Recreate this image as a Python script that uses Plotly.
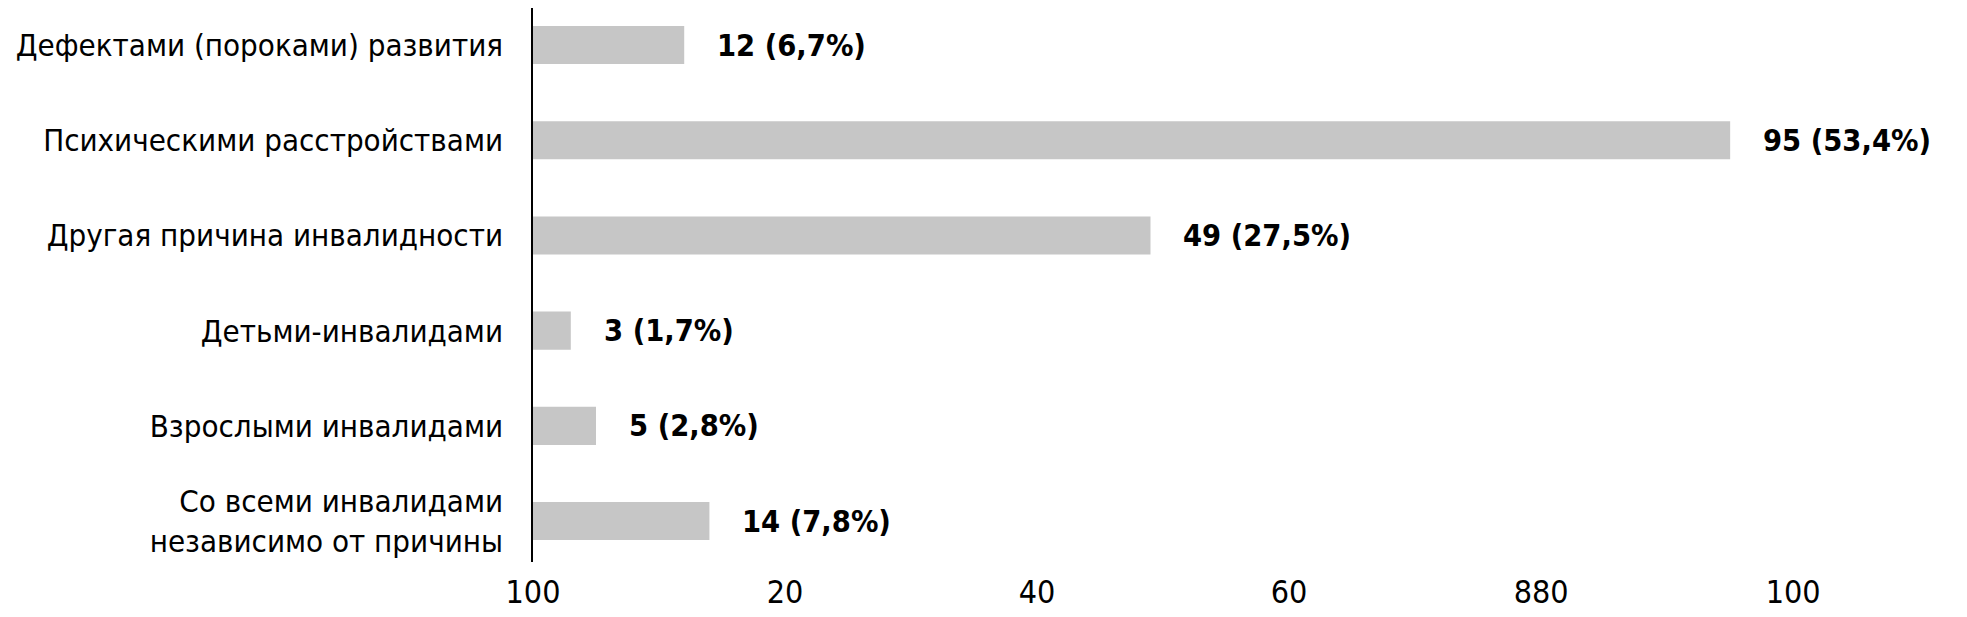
import plotly.graph_objects as go

categories = [
    "Дефектами (пороками) развития",
    "Психическими расстройствами",
    "Другая причина инвалидности",
    "Детьми-инвалидами",
    "Взрослыми инвалидами",
    "Со всеми инвалидами<br>независимо от причины",
]
values = [12, 95, 49, 3, 5, 14]
percents = ["6,7%", "53,4%", "27,5%", "1,7%", "2,8%", "7,8%"]
tick_vals = [0, 20, 40, 60, 80, 100]
tick_text = ["100", "20", "40", "60", "880", "100"]

FONT = "DejaVu Sans Condensed, Roboto, sans-serif"

fig = go.Figure()
fig.add_trace(go.Bar(
    x=values, y=categories, orientation="h",
    marker=dict(color="#c6c6c6", line=dict(width=0)),
    hoverinfo="skip",
))

for c, v, p in zip(categories, values, percents):
    fig.add_annotation(
        x=v, y=c, text=f"<b>{v} ({p})</b>", showarrow=False,
        xanchor="left", yanchor="middle", xshift=31,
        font=dict(family=FONT, size=30.5, color="#000000"),
    )

fig.update_layout(
    width=1959, height=609,
    margin=dict(l=525, r=10, t=0, b=55),
    paper_bgcolor="white", plot_bgcolor="white",
    bargap=0.60, showlegend=False,
    font=dict(family=FONT, size=31, color="#000000"),
)
fig.update_xaxes(
    range=[0, 113], tickvals=tick_vals, ticktext=tick_text,
    showgrid=False, zeroline=False, showline=False, ticks="",
    tickfont=dict(family=FONT, size=32, color="#000000"),
    ticklabelstandoff=8, automargin=False,
)
fig.update_yaxes(
    categoryorder="array", categoryarray=categories,
    range=[5.430, -0.389],
    showgrid=False, zeroline=False, showline=True,
    linecolor="#000000", linewidth=1.5, ticks="", ticklabelstandoff=22,
    tickfont=dict(family=FONT, size=31, color="#000000"),
    automargin=False,
)

fig.write_html("out.html")
